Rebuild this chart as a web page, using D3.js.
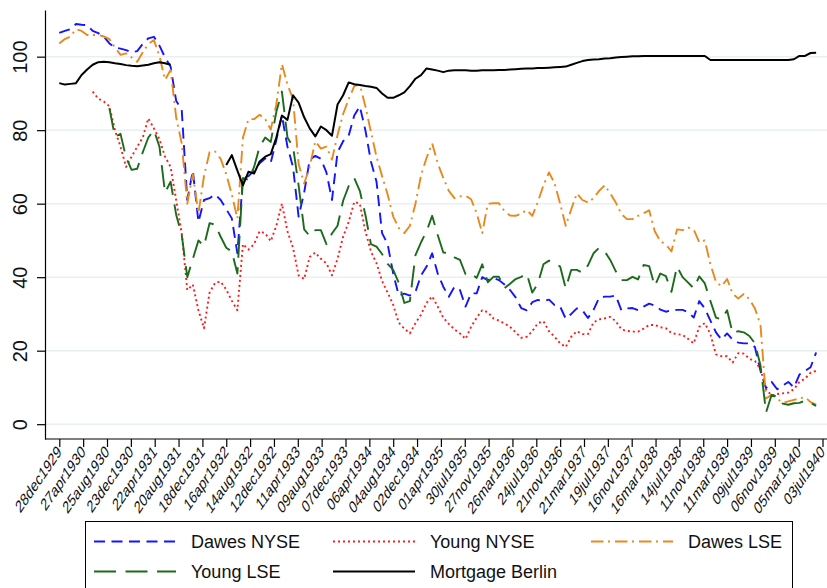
<!DOCTYPE html>
<html>
<head>
<meta charset="utf-8">
<script src="https://cdn.jsdelivr.net/npm/d3@7"></script>
<style>
  body { margin: 0; background: #fff; }
  svg { display: block; font-family: "Liberation Sans", Arial, Helvetica, sans-serif; }
</style>
</head>
<body>
<div id="chart"></div>
<script>
// tick labels (every 120 days from 28dec1929)
var tickLabels = ["28dec1929","27apr1930","25aug1930","23dec1930","22apr1931","20aug1931",
  "18dec1931","16apr1932","14aug1932","12dec1932","11apr1933","09aug1933","07dec1933",
  "06apr1934","04aug1934","02dec1934","01apr1935","30jul1935","27nov1935","26mar1936",
  "24jul1936","21nov1936","21mar1937","19jul1937","16nov1937","16mar1938","14jul1938",
  "11nov1938","11mar1939","09jul1939","06nov1939","05mar1940","03jul1940"];
var yTicks = [0, 20, 40, 60, 80, 100];

// series read every 4 weeks starting 28dec1929 (null = no quote)
var startDate = "28dec1929";
var stepDays = 28;

var dawesNYSE = [106.5,107,107.5,108.9,108.7,108.6,107,106.4,105.5,103.6,
  102.5,102.2,101.8,101.2,101.5,103.5,105,105.4,103,99.8,
  97.3,88,85.5,61,69,55,61,61.5,62.5,61,
  58.5,56,46.5,67,67.5,69,71,72.3,71.2,77.3,
  84,75.5,70,56.5,63,72,73,72.2,68.5,61,
  74,77,78.5,84,86.5,80,71.5,66,52,49,
  41,35,35.5,35,36,40.5,42.9,46.5,41,37.4,
  34.7,37.4,36.5,32,35.6,35.6,40,39.2,39.8,39.2,
  38,36.5,34.5,31.6,31,33.2,33.8,33.5,33.9,32.4,
  32,28.7,30,31.5,31,28.9,31.1,34.4,34.7,34.7,
  35,31,31.5,31.6,31,32,32.8,32.3,31.2,30.6,
  31,31.1,31.1,30.5,29,33.5,31.5,28.2,25,23,
  24.7,23,22.2,22,22,21,14.5,9.8,11.5,9.5,
  10.5,11.5,10,13.5,14.5,15.5,19.5];

var youngNYSE = [null,null,null,null,null,null,90.5,88.6,87.8,86.5,
  80,75.5,70,72.8,75.5,78,83.2,80.5,77.5,72.8,
  70,61,51.9,36.5,38,31,26.1,35.8,38.5,38.8,
  36.6,33.6,31,49,47.5,49,52.5,51.9,49.8,54,
  60,52.5,48,40.5,39.5,45.5,46.7,45,43.8,40.5,
  45,51,55,60.5,60,52.5,47,43.8,39,35.8,
  32.5,27.6,26,24.7,27.5,29.8,33,34.8,32,29,
  27.3,25.8,24.7,23.2,26.5,29,31,30.5,28.8,28.2,
  27.4,26.5,25,23.5,23.8,25.3,27.5,28,25.3,23.8,
  22,21,23.8,25.3,24.5,24.5,27.7,28.5,28.8,29.2,
  28,25.8,25.4,25.2,25.2,26,27,27,26.4,26.1,
  24.8,24.5,24.3,23.2,22,26.5,27.5,24.5,19,18.5,
  18.5,16.8,19.3,19.2,17.8,17.2,15,9.5,7.8,8.2,
  8.4,8.6,9.5,11.5,12.4,14,14.5];

var dawesLSE = [103.6,104.8,105.5,107.5,107,105.9,105.9,105.9,105.5,104.8,
  102.5,100.5,100.9,99.8,98.6,101.2,103.5,104.5,100.2,93.7,
  96.4,83.5,76.4,60,68,57.4,67.5,74,74.2,72.2,
  68,62.5,56,78,83,83,84.2,83,80.2,87,
  98,92.4,88.5,70.8,65.5,70,77,75,75.5,72,
  78.7,84.4,88.4,92,92.4,86.5,79.5,72.8,67.5,62.5,
  56.5,53.4,52,54,60,67.7,72.5,76.4,71,67,
  63.5,61.5,62,62.2,61.2,57.4,52,60,60.1,60.1,
  58,56.8,56.7,57.3,58.3,56.7,60.5,65,68.5,65.5,
  60,54,58.5,62.8,61,60.3,61.5,63.5,65,62.8,
  60.3,57.2,55.8,55.8,56.7,57.4,58.2,52.5,49.8,48.9,
  47,53,52.8,53.5,53,49.5,50,43.5,38.8,37.5,
  39.5,35.5,34.2,35.4,34,31.5,27,7,8,7,
  5.8,6.2,6.6,7,7.4,6,5.3];

var youngLSE = [null,null,null,null,null,null,null,null,null,86,
  78.2,79,72.5,69.2,69.5,74,78,80,75.5,63,
  66,57,51.5,40,45,50,48.5,54.7,54.3,51,
  48,47,41,67,66.5,70,75.5,78,76.8,85,
  90.5,78,75.5,65,53,51.2,52.8,52.8,49,51.9,
  54,60.8,64.8,67,63.5,57,49,48.3,46.3,43.6,
  42,38.5,33,33.5,46,49.5,52.5,56.7,51.5,46.7,
  46.6,45.4,44.7,40.8,41,39.8,43.5,38.6,40.1,40.1,
  37,38.2,39.5,40.1,41,35.8,38.3,43.5,44.5,43.8,
  42.9,37,42,42,41.2,43.2,46.5,48,47,44.7,
  41.6,39.2,39.2,40.1,39.4,43.3,43,37.6,41,40.3,
  36,42.9,40,38.5,37,40.2,38.3,33.5,29,28.5,
  31,24.7,25.3,25,24,22,16,3.2,8,7.5,
  5.6,5.3,5.7,5.8,6.4,5.8,5];

var mortgageBerlin = [92.8,92.4,92.6,92.8,95,96.5,97.8,98.5,98.6,98.5,
  98.2,98,97.7,97.5,97.4,97.6,97.8,98.2,98.5,98.2,
  97.8,null,null,null,null,null,null,null,null,null,
  70.5,73.2,69,65,68.7,68.2,71.5,72.8,73.5,78,
  84,82.8,89.5,87.5,83.5,80.5,78.3,81,80,78.5,
  87,89.5,93,92.5,92.3,92,91.8,91.5,90,88.8,
  88.8,89.5,90.3,92,94,95,96.8,96.5,96.2,95.8,
  96.2,96.3,96.3,96.3,96.2,96.2,96.3,96.3,96.3,96.4,
  96.4,96.5,96.6,96.7,96.8,96.8,96.9,96.9,97,97.1,
  97.2,97.3,97.8,98.3,98.8,99.1,99.2,99.3,99.5,99.6,
  99.8,99.9,100,100.1,100.1,100.2,100.2,100.2,100.2,100.2,
  100.2,100.2,100.2,100.2,100.2,100.2,100.2,99.1,99.1,99.1,
  99.1,99.1,99.1,99.1,99.1,99.1,99.1,99.1,99.1,99.1,
  99.1,99.1,99.3,100.2,100.2,101,101.1];

var seriesNames = ["Dawes NYSE", "Young NYSE", "Dawes LSE", "Young LSE", "Mortgage Berlin"];
var seriesData = [dawesNYSE, youngNYSE, dawesLSE, youngLSE, mortgageBerlin];
var seriesColors = ["#1414ff", "#ff1a1a", "#e8891e", "#1c6b1c", "#000000"];
var seriesDash = ["11,6.5", "2,3", "12.5,4.5,2,5", "22,9.5", null];

var W = 827, H = 588;
var parse = d3.utcParse("%d%b%Y");
var t0 = parse(startDate);
var day = 86400000;

var svg = d3.select("#chart").append("svg")
  .attr("width", W)
  .attr("height", H);

// scales
var x = d3.scaleUtc()
  .domain([t0, parse("03jul1940")])
  .range([59.3, 822.5]);
var y = d3.scaleLinear()
  .domain([-4.03, 112.7])
  .range([439, 10]);

// grid
svg.append("g")
  .selectAll("line")
  .data(yTicks)
  .enter().append("line")
  .attr("x1", 46).attr("x2", W)
  .attr("y1", d => y(d)).attr("y2", d => y(d))
  .attr("stroke", "#e9f0f2")
  .attr("stroke-width", 1.5);

// y axis
var yAxis = d3.axisLeft(y).tickValues(yTicks).tickSize(8).tickSizeOuter(0).tickPadding(10);
var gy = svg.append("g").attr("transform", "translate(45,0)").call(yAxis);
gy.select(".domain").attr("stroke", "#000").attr("stroke-width", 1.2);
gy.selectAll(".tick line").attr("stroke", "#000").attr("stroke-width", 1.2);
gy.selectAll(".tick text")
  .attr("x", null).attr("dy", null)
  .attr("transform", "translate(-18,0) rotate(-90)")
  .attr("text-anchor", "middle")
  .attr("font-size", 20)
  .attr("fill", "#111");

// x axis
var tickDates = tickLabels.map(parse);
var xAxis = d3.axisBottom(x).tickValues(tickDates).tickSize(8).tickSizeOuter(0)
  .tickFormat((d, i) => tickLabels[i]);
var gx = svg.append("g").attr("transform", "translate(0,439)").call(xAxis);
gx.select(".domain").remove();
gx.append("line").attr("x1", 45).attr("x2", W).attr("stroke", "#000").attr("stroke-width", 1.2);
gx.selectAll(".tick line").attr("stroke", "#000").attr("stroke-width", 1.2);
// labels look stretched vertically in the original (steeper than 45deg)
gx.selectAll(".tick text")
  .attr("y", null).attr("dy", null)
  .attr("transform", "translate(2.5,14) scale(1,1.45) rotate(-45)")
  .attr("text-anchor", "end")
  .attr("font-size", 12)
  .attr("fill", "#111");

// lines
var line = d3.line()
  .defined(d => d.v != null)
  .x(d => x(d.t))
  .y(d => y(d.v));

seriesData.forEach(function (s, k) {
  var pts = s.map((v, i) => ({ t: new Date(t0.getTime() + i * stepDays * day), v: v }));
  svg.append("path")
    .datum(pts)
    .attr("d", line)
    .attr("fill", "none")
    .attr("stroke", seriesColors[k])
    .attr("stroke-width", k == 4 ? 2 : 1.9)
    .attr("stroke-dasharray", seriesDash[k])
    .attr("stroke-linejoin", "round");
});

// legend
var lg = svg.append("g");
lg.append("rect")
  .attr("x", 85.5).attr("y", 521.5)
  .attr("width", 707).attr("height", 90)
  .attr("fill", "#fff").attr("stroke", "#000").attr("stroke-width", 1);

var legCols = [94, 333, 591];
var legRows = [541.5, 571.5];
seriesNames.forEach(function (name, k) {
  var cx = legCols[k % 3], cy = legRows[Math.floor(k / 3)];
  lg.append("line")
    .attr("x1", cx).attr("x2", cx + 82)
    .attr("y1", cy).attr("y2", cy)
    .attr("stroke", seriesColors[k])
    .attr("stroke-width", 2)
    .attr("stroke-dasharray", seriesDash[k]);
  lg.append("text")
    .attr("x", cx + 97).attr("y", cy + 6.5)
    .attr("font-size", 18)
    .attr("fill", "#111")
    .text(name);
});
</script>
</body>
</html>
